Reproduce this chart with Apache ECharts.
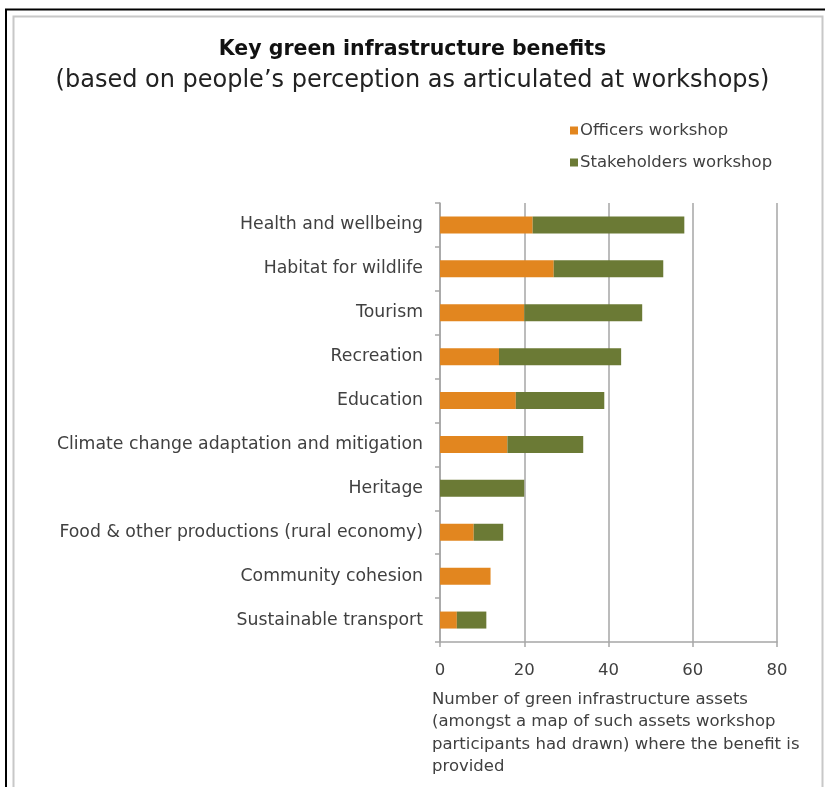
<!DOCTYPE html>
<html>
<head>
<meta charset="utf-8">
<script src="https://cdn.jsdelivr.net/npm/echarts@6/dist/echarts.min.js"></script>
<style>html,body{margin:0;padding:0;background:#fff}#c{width:825px;height:787px}</style>
</head>
<body>
<div id="c"></div>
<script>
const categories = [
  "Health and wellbeing",
  "Habitat for wildlife",
  "Tourism",
  "Recreation",
  "Education",
  "Climate change adaptation and mitigation",
  "Heritage",
  "Food & other productions (rural economy)",
  "Community cohesion",
  "Sustainable transport"
];
const officers = [22, 27, 20, 14, 18, 16, 0, 8, 12, 4];
const stakeholders = [36, 26, 28, 29, 21, 18, 20, 7, 0, 7];
const xTicks = [0, 20, 40, 60, 80];
const seriesNames = ["Officers workshop", "Stakeholders workshop"];
const titleText = "Key green infrastructure benefits";
const subtitleText = "(based on people\u2019s perception as articulated at workshops)";
const xAxisTitle = "Number of green infrastructure assets\n(amongst a map of such assets workshop\nparticipants had drawn) where the benefit is\nprovided";

const FONT = "DejaVu Sans";
const TXT = "#404040";
const chart = echarts.init(document.getElementById('c'), null, {renderer: 'canvas'});
chart.setOption({
  animation: false,
  backgroundColor: '#fff',
  textStyle: {fontFamily: FONT},
  title: {
    text: titleText,
    subtext: subtitleText,
    left: 'center',
    top: 34,
    itemGap: 9,
    textStyle: {fontFamily: FONT, fontSize: 20.5, fontWeight: 'bold', color: '#111'},
    subtextStyle: {fontFamily: FONT, fontSize: 24, color: '#222'}
  },
  legend: {
    orient: 'vertical',
    left: 565,
    top: 117,
    itemWidth: 8,
    itemHeight: 8,
    itemGap: 15,
    icon: 'rect',
    data: seriesNames,
    textStyle: {fontFamily: FONT, fontSize: 16.5, color: TXT, padding: [0, 0, 0, -3]}
  },
  grid: {left: 440, right: 48, top: 203, height: 439, containLabel: false},
  xAxis: {
    type: 'value',
    min: xTicks[0],
    max: xTicks[xTicks.length - 1],
    interval: 20,
    axisLine: {show: true, lineStyle: {color: '#a6a6a6', width: 1.5}},
    axisTick: {show: true, length: 5, lineStyle: {color: '#a6a6a6', width: 1.5}},
    axisLabel: {margin: 20, fontFamily: FONT, fontSize: 16.5, color: TXT},
    splitLine: {show: true, lineStyle: {color: '#a6a6a6', width: 1.5}}
  },
  yAxis: {
    type: 'category',
    data: categories,
    inverse: true,
    axisLine: {show: true, lineStyle: {color: '#a6a6a6', width: 1.5}},
    axisTick: {show: true, length: 5, lineStyle: {color: '#a6a6a6', width: 1.5}},
    axisLabel: {margin: 17, fontFamily: FONT, fontSize: 17.3, color: TXT}
  },
  series: [
    {name: seriesNames[0], type: 'bar', stack: 'a', data: officers, barWidth: 17,
     itemStyle: {color: '#e2861f'}},
    {name: seriesNames[1], type: 'bar', stack: 'a', data: stakeholders, barWidth: 17,
     itemStyle: {color: '#6b7a35'}}
  ],
  graphic: [
    {type: 'rect', shape: {x: 6, y: 9.5, width: 840, height: 820}, style: {fill: null, stroke: '#000', lineWidth: 2}, silent: true},
    {type: 'rect', shape: {x: 13.5, y: 16.5, width: 809, height: 820}, style: {fill: null, stroke: '#c8c8c8', lineWidth: 2}, silent: true},
    {type: 'text', left: 432, top: 688, style: {text: xAxisTitle, fontFamily: FONT, fontSize: 16.5, lineHeight: 22.5, fill: TXT}}
  ]
});
</script>
</body>
</html>
